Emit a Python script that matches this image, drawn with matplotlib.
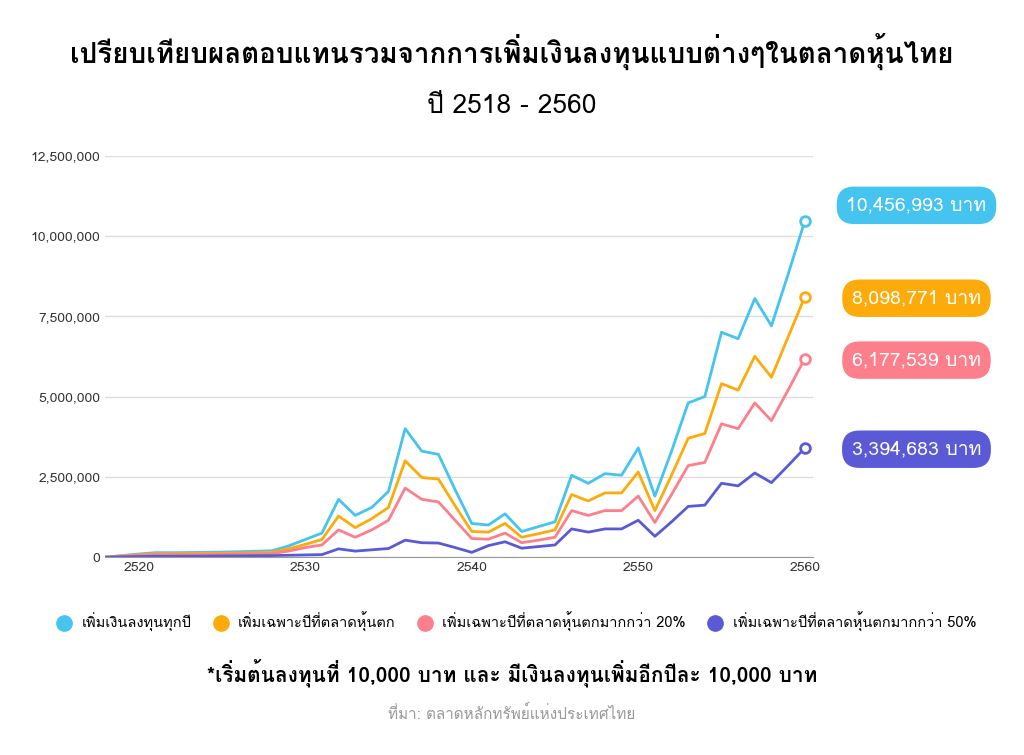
import matplotlib.pyplot as plt
from matplotlib import font_manager as fm
import numpy as np

# find a font that has Thai glyphs
thai = []
for f in fm.fontManager.ttflist:
    n = f.name
    if 'Thai' in n or 'Sarabun' in n or 'Kanit' in n or 'Loma' in n or 'Garuda' in n or 'Waree' in n or 'Norasi' in n or 'Prompt' in n:
        if n not in thai:
            thai.append(n)
plt.rcParams['font.family'] = thai + ['DejaVu Sans']

years = list(range(2518, 2561))
every_year = [0, 50000, 100000, 140000, 140000, 145000, 150000, 160000, 170000, 185000, 200000, 350000, 550000, 750000,
              1800000, 1300000, 1550000, 2050000, 4000000, 3300000, 3200000, 2100000, 1050000, 1000000, 1350000,
              800000, 950000, 1100000, 2550000, 2300000, 2600000, 2550000, 3400000, 1900000, 3300000, 4800000,
              5000000, 7000000, 6800000, 8050000, 7200000, 8800000, 10456993]
down_year = [0, 40000, 80000, 110000, 110000, 115000, 120000, 125000, 130000, 140000, 150000, 260000, 400000, 550000,
             1280000, 920000, 1200000, 1550000, 3000000, 2480000, 2430000, 1600000, 800000, 780000, 1050000,
             620000, 730000, 850000, 1950000, 1750000, 2000000, 2000000, 2650000, 1450000, 2550000, 3700000,
             3850000, 5400000, 5200000, 6250000, 5600000, 6850000, 8098771]
down20 = [0, 30000, 60000, 80000, 80000, 82000, 85000, 90000, 95000, 100000, 110000, 190000, 300000, 380000,
          850000, 620000, 850000, 1150000, 2150000, 1800000, 1720000, 1150000, 580000, 560000, 750000,
          450000, 530000, 620000, 1450000, 1300000, 1450000, 1450000, 1900000, 1080000, 1950000, 2850000,
          2950000, 4150000, 4000000, 4800000, 4250000, 5200000, 6177539]
down50 = [0, 10000, 20000, 30000, 30000, 32000, 35000, 38000, 40000, 45000, 50000, 60000, 70000, 80000,
          260000, 190000, 230000, 270000, 530000, 450000, 440000, 300000, 150000, 360000, 480000,
          280000, 330000, 380000, 880000, 780000, 880000, 880000, 1150000, 650000, 1100000, 1580000,
          1620000, 2300000, 2220000, 2620000, 2320000, 2850000, 3394683]

names = ['เพิ่มเงินลงทุนทุกปี', 'เพิ่มเฉพาะปีที่ตลาดหุ้นตก', 'เพิ่มเฉพาะปีที่ตลาดหุ้นตกมากกว่า 20%',
         'เพิ่มเฉพาะปีที่ตลาดหุ้นตกมากกว่า 50%']
colors = ['#45c4ef', '#fdab0a', '#fd7f8c', '#5a5ad6']
series = [every_year, down_year, down20, down50]
labels = ['10,456,993 บาท', '8,098,771 บาท', '6,177,539 บาท', '3,394,683 บาท']

fig = plt.figure(figsize=(10.24, 7.55), dpi=100)
ax = fig.add_axes([0.103, 0.262, 0.691, 0.532])
for s, c, n in zip(series, colors, names):
    ax.plot(years, s, color=c, lw=2, label=n)
    ax.plot(years[-1], s[-1], 'o', mfc='white', mec=c, mew=2, ms=7)

ax.set_xlim(2518, 2560.5)
ax.set_ylim(0, 12500000)
ax.set_yticks(np.arange(0, 12500001, 2500000))
ax.yaxis.set_major_formatter(plt.FuncFormatter(lambda v, p: f'{int(v):,}'))
ax.set_xticks(range(2520, 2561, 10))
ax.grid(axis='y', color='#dddddd', lw=1)
for sp in ['top', 'right', 'left']:
    ax.spines[sp].set_visible(False)
ax.spines['bottom'].set_color('#999999')
ax.tick_params(length=0, labelsize=10, colors='#333333')

ypos = [0.728, 0.605, 0.523, 0.405]
for lab, c, y in zip(labels, colors, ypos):
    fig.text(0.895, y, lab, ha='center', va='center', fontsize=14, color='white',
             bbox=dict(boxstyle='round,pad=0.5,rounding_size=0.9', fc=c, ec='none'))

leg = fig.legend(loc='center', bbox_to_anchor=(0.505, 0.176), ncol=4, frameon=False,
                 fontsize=10.5, handlelength=0.8, columnspacing=1.6, handletextpad=0.8)
for h, c in zip(leg.legend_handles, colors):
    h.set_linewidth(0)
    h.set_marker('o')
    h.set_markersize(11)
    h.set_color(c)

fig.text(0.5, 0.915, 'เปรียบเทียบผลตอบแทนรวมจากการเพิ่มเงินลงทุนแบบต่างๆในตลาดหุ้นไทย',
         ha='center', fontsize=20, fontweight='bold')
fig.text(0.5, 0.85, 'ปี 2518 - 2560', ha='center', fontsize=19)
fig.text(0.5, 0.098, '*เริ่มต้นลงทุนที่ 10,000 บาท และ มีเงินลงทุนเพิ่มอีกปีละ 10,000 บาท',
         ha='center', fontsize=15, fontweight='bold')
fig.text(0.5, 0.048, 'ที่มา: ตลาดหลักทรัพย์แห่งประเทศไทย', ha='center', fontsize=11, color='#999999')

fig.savefig('out.png')
